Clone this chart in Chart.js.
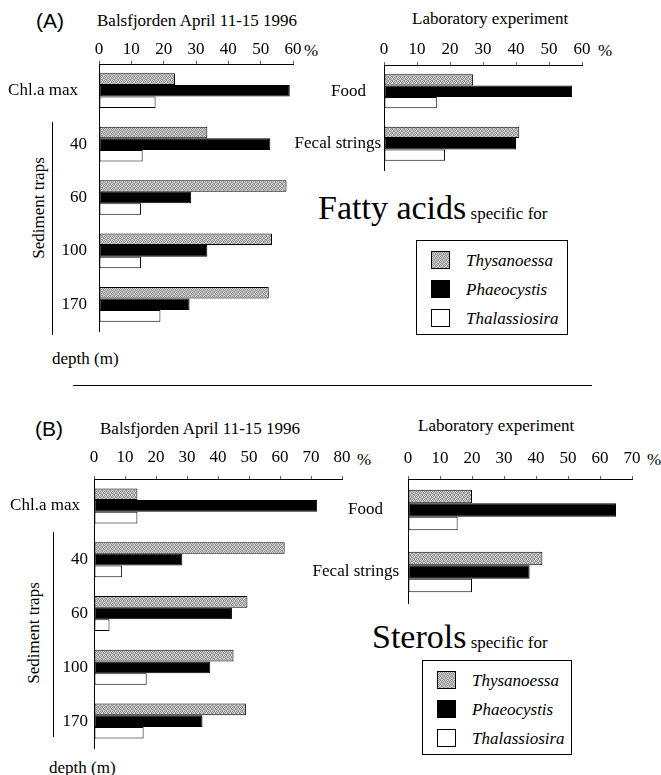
<!DOCTYPE html>
<html><head><meta charset="utf-8">
<script src="https://cdn.jsdelivr.net/npm/chart.js@4.4.0/dist/chart.umd.min.js"></script>
<style>
html,body{margin:0;padding:0;background:#fff;}
#page{position:relative;width:661px;height:775px;overflow:hidden;font-family:"Liberation Serif","Times New Roman",serif;color:#000;background:#fff;}
.t{position:absolute;white-space:nowrap;line-height:1;}
.sans{font-family:"Liberation Sans",Arial,sans-serif;}
canvas{position:absolute;}
.legend{position:absolute;border:1px solid #000;box-sizing:border-box;background:#fff;}
.sw{position:absolute;width:19px;height:18px;border:1px solid #000;box-sizing:border-box;}
.lt{position:absolute;font-style:italic;font-size:17px;line-height:1;white-space:nowrap;}
.vline{position:absolute;width:1px;background:#000;}
.hline{position:absolute;height:1px;background:#000;}
</style></head>
<body><div id="page"></div>
<script>
// ---------- data ----------
const seriesNames = ['Thysanoessa', 'Phaeocystis', 'Thalassiosira'];
const fieldCategories = ['Chl.a max', '40', '60', '100', '170'];
const labCategories = ['Food', 'Fecal strings'];

// (A) Fatty acids, Balsfjorden
const faFieldThysanoessa   = [23.5, 33.5, 58, 53.5, 52.5];
const faFieldPhaeocystis   = [59, 53, 28.5, 33.5, 28];
const faFieldThalassiosira = [17.5, 13.5, 13, 13, 19];
// (A) Fatty acids, laboratory
const faLabThysanoessa   = [27, 41];
const faLabPhaeocystis   = [57, 40];
const faLabThalassiosira = [16, 18.5];
// (B) Sterols, Balsfjorden
const stFieldThysanoessa   = [14, 61.5, 49.5, 45, 49];
const stFieldPhaeocystis   = [72, 28.5, 44.5, 37.5, 35];
const stFieldThalassiosira = [14, 9, 5, 17, 16];
// (B) Sterols, laboratory
const stLabThysanoessa   = [20, 42];
const stLabPhaeocystis   = [65, 38];
const stLabThalassiosira = [15.5, 20];

// axis maxima (ticks every 10)
const faFieldMax = 60, faLabMax = 60, stFieldMax = 80, stLabMax = 70;

// ---------- styling ----------
Chart.defaults.font.family = '"Liberation Serif","Times New Roman",serif';
Chart.defaults.font.size = 17;
Chart.defaults.color = '#000';

const patCanvas = document.createElement('canvas');
patCanvas.width = 4; patCanvas.height = 4;
(function(){
  const g = patCanvas.getContext('2d');
  g.fillStyle = '#d2d2d2'; g.fillRect(0,0,4,4);
  g.fillStyle = '#8e8e8e';
  [[0,0],[2,0],[1,1],[3,2],[0,2],[2,3],[1,3],[3,1]].forEach(p => g.fillRect(p[0], p[1], 1, 1));
})();
const greyPattern = patCanvas.getContext('2d').createPattern(patCanvas, 'repeat');
const fills = [greyPattern, '#000000', '#ffffff'];
const swatchCss = ['url(' + patCanvas.toDataURL() + ')', '#000', '#fff'];

const page = document.getElementById('page');

function text(str, left, cy, size, cls, extra) {
  const d = document.createElement('div');
  d.className = 't ' + (cls || '');
  d.style.left = left + 'px';
  d.style.top = (cy - size / 2) + 'px';
  d.style.fontSize = size + 'px';
  if (extra) Object.assign(d.style, extra);
  d.textContent = str;
  page.appendChild(d);
  return d;
}
function vtext(str, cx, cy, size) {
  const d = document.createElement('div');
  d.className = 't';
  d.style.left = cx + 'px';
  d.style.top = cy + 'px';
  d.style.fontSize = size + 'px';
  d.style.transform = 'translate(-50%,-50%) rotate(-90deg)';
  d.textContent = str;
  page.appendChild(d);
}
function vline(x, y1, y2) {
  const d = document.createElement('div');
  d.className = 'vline';
  d.style.left = x + 'px'; d.style.top = y1 + 'px'; d.style.height = (y2 - y1) + 'px';
  page.appendChild(d);
}
function hline(x1, x2, y) {
  const d = document.createElement('div');
  d.className = 'hline';
  d.style.left = x1 + 'px'; d.style.top = y + 'px'; d.style.width = (x2 - x1) + 'px';
  page.appendChild(d);
}
function legend(left, top, w, h) {
  const box = document.createElement('div');
  box.className = 'legend';
  box.style.left = left + 'px'; box.style.top = top + 'px';
  box.style.width = w + 'px'; box.style.height = h + 'px';
  const rows = [19, 48, 77];
  seriesNames.forEach((name, i) => {
    const s = document.createElement('div');
    s.className = 'sw';
    s.style.left = '14px'; s.style.top = (rows[i] - 9) + 'px';
    s.style.background = swatchCss[i];
    box.appendChild(s);
    const t = document.createElement('div');
    t.className = 'lt';
    t.style.left = '49px'; t.style.top = (rows[i] - 8.5) + 'px';
    t.textContent = name;
    box.appendChild(t);
  });
  page.appendChild(box);
}
function bigTitle(big, small, left, cy) {
  const d = document.createElement('div');
  d.className = 't';
  d.style.left = left + 'px';
  d.style.top = (cy - 17) + 'px';
  d.style.fontSize = '34px';
  d.appendChild(document.createTextNode(big));
  const s = document.createElement('span');
  s.style.fontSize = '17px';
  s.textContent = ' ' + small;
  d.appendChild(s);
  page.appendChild(d);
}

const catLabelPlugin = {
  id: 'catLabels',
  afterDatasetsDraw(chart, args, opts) {
    const ys = chart.scales.y, ctx = chart.ctx;
    ctx.save();
    ctx.font = '17px "Liberation Serif","Times New Roman",serif';
    ctx.fillStyle = '#000';
    ctx.textAlign = 'right';
    ctx.textBaseline = 'middle';
    chart.data.labels.forEach((lab, i) => {
      ctx.fillText(lab, chart.chartArea.left - opts.pads[i], ys.getPixelForValue(i));
    });
    ctx.restore();
  }
};

function makeChart(g, cats, series, max, pads, tickPad) {
  const c = document.createElement('canvas');
  const w = g.R + 20 - g.left, h = g.B + 4 - g.top;
  c.width = w; c.height = h;
  c.style.left = g.left + 'px'; c.style.top = g.top + 'px';
  c.style.width = w + 'px'; c.style.height = h + 'px';
  page.appendChild(c);
  new Chart(c, {
    type: 'bar',
    data: {
      labels: cats,
      datasets: series.map((v, i) => ({
        label: seriesNames[i], data: v,
        backgroundColor: fills[i], borderColor: '#000', borderWidth: 1,
        borderSkipped: false, categoryPercentage: 0.65, barPercentage: 1.0
      }))
    },
    options: {
      indexAxis: 'y', responsive: false, animation: false, devicePixelRatio: 1,
      layout: { padding: { left: 0, top: 0, right: 20, bottom: 4 } },
      plugins: { legend: { display: false }, tooltip: { enabled: false }, catLabels: { pads } },
      scales: {
        x: {
          type: 'linear', position: 'top', min: 0, max: max,
          ticks: { stepSize: 10, padding: tickPad, color: '#000', font: { size: 17 } },
          grid: { display: true, drawOnChartArea: false, drawTicks: true, tickLength: 3, color: '#666' },
          border: { display: true, color: '#000', width: 1 },
          afterFit: s => { s.height = g.T - g.top; }
        },
        y: {
          type: 'category', offset: true,
          ticks: { display: false },
          grid: { display: false },
          border: { display: true, color: '#000', width: 1 },
          afterFit: s => { s.width = g.L - g.left; }
        }
      }
    },
    plugins: [catLabelPlugin]
  });
}

// ---------- panel A ----------
text('(A)', 36, 20, 21, 'sans');
text('Balsfjorden April 11-15 1996', 97, 20, 17);
text('%', 304, 50, 17);
text('Laboratory experiment', 412, 18, 17);
text('%', 598, 50, 17);
vtext('Sediment traps', 38, 208, 17);
vline(52, 122, 335);
text('depth (m)', 52, 358, 17);
bigTitle('Fatty acids', 'specific for', 318, 208);
legend(416, 240, 152, 95);

makeChart({left: 0, top: 24, L: 99, T: 64, R: 293, B: 331}, fieldCategories,
  [faFieldThysanoessa, faFieldPhaeocystis, faFieldThalassiosira], faFieldMax, [21, 12, 12, 12, 12], 1);
makeChart({left: 290, top: 25, L: 384, T: 65, R: 582, B: 170}, labCategories,
  [faLabThysanoessa, faLabPhaeocystis, faLabThalassiosira], faLabMax, [18, 3], 2);

hline(73, 592, 385);

// ---------- panel B ----------
text('(B)', 35, 428, 21, 'sans');
text('Balsfjorden April 11-15 1996', 100, 428, 17);
text('%', 357, 459, 17);
text('Laboratory experiment', 418, 425, 17);
text('%', 647, 459, 17);
vtext('Sediment traps', 33, 633, 17);
vline(53, 532, 737);
text('depth (m)', 49, 767, 17);
bigTitle('Sterols', 'specific for', 372, 637);
legend(422, 660, 150, 95);

makeChart({left: 0, top: 439, L: 94, T: 479, R: 342, B: 748}, fieldCategories,
  [stFieldThysanoessa, stFieldPhaeocystis, stFieldThalassiosira], stFieldMax, [14, 6, 6, 6, 6], 8);
makeChart({left: 300, top: 439, L: 408, T: 479, R: 632, B: 603}, labCategories,
  [stLabThysanoessa, stLabPhaeocystis, stLabThalassiosira], stLabMax, [25, 9], 7);
</script>
</body></html>
